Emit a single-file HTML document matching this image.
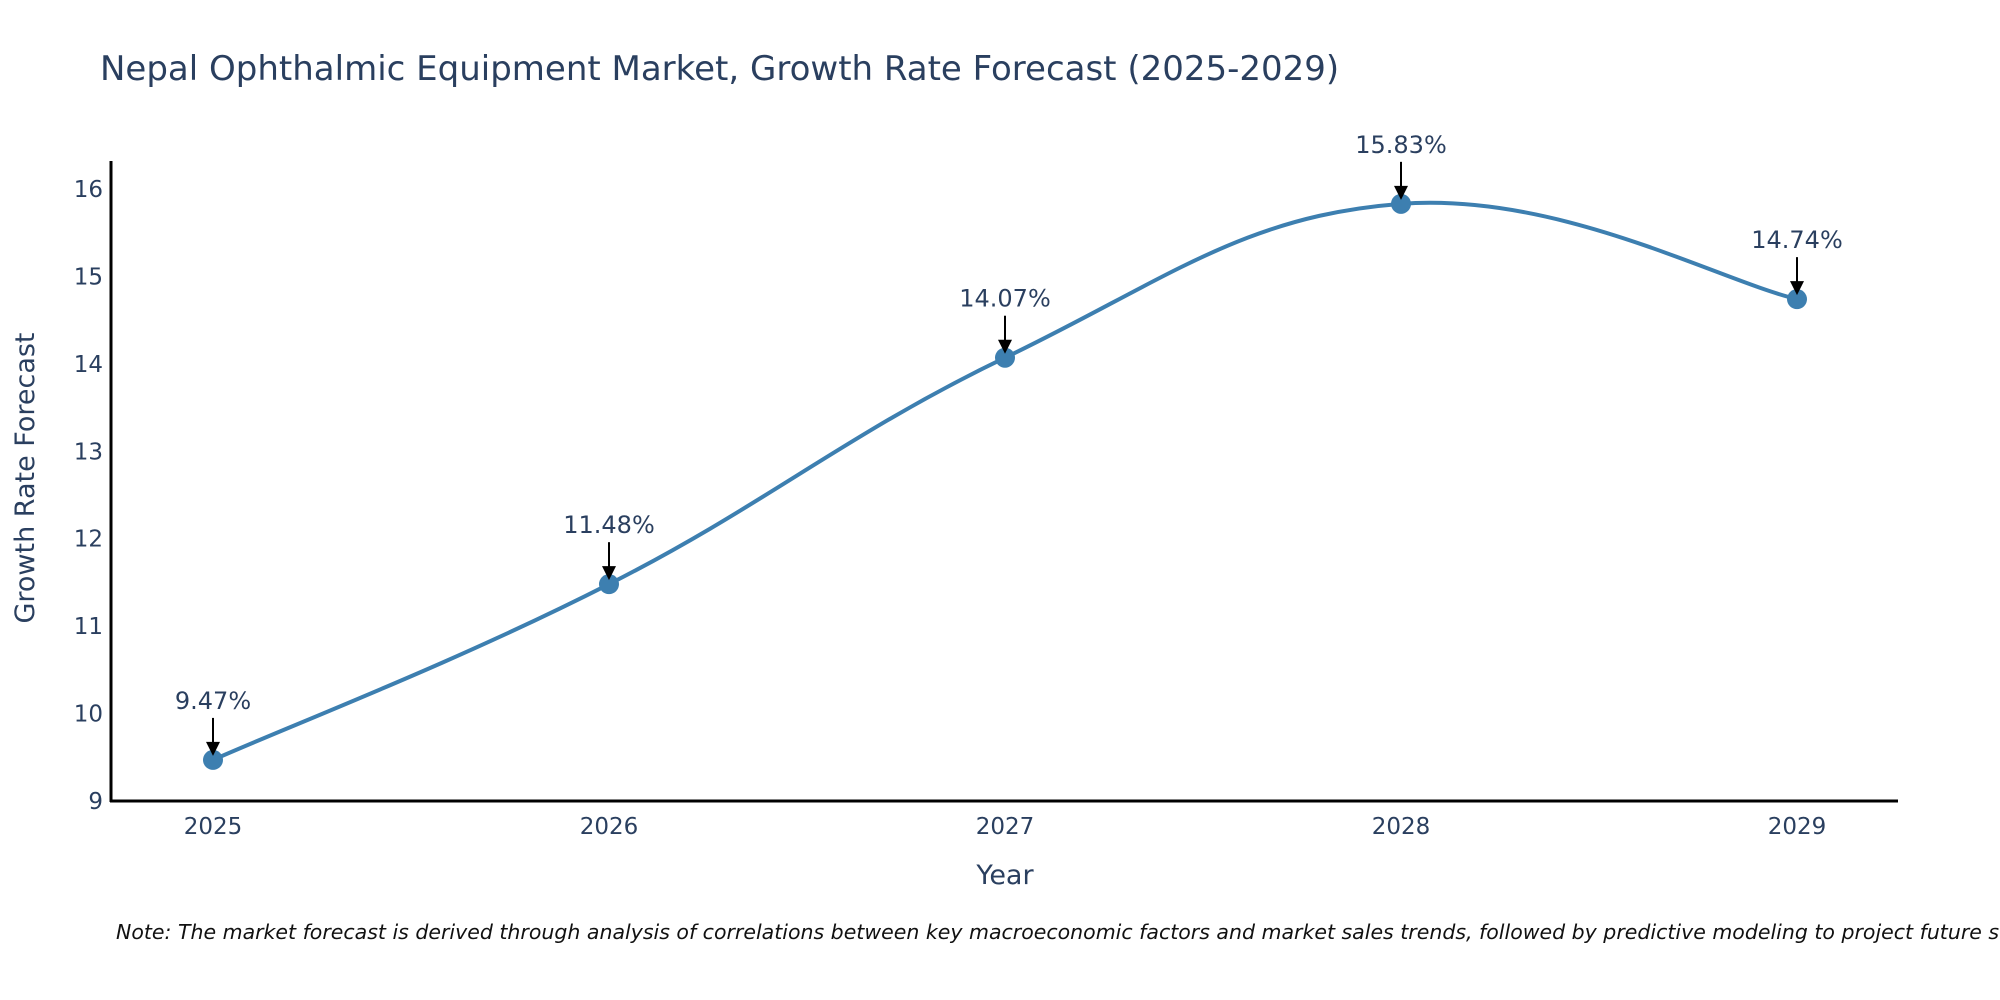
<!DOCTYPE html>
<html><head><meta charset="utf-8"><style>
body{margin:0;background:#fff;}
svg{display:block;font-family:"DejaVu Sans","Liberation Sans",sans-serif;}
</style></head><body>
<svg id="chart" width="2000" height="1000" viewBox="0 0 2000 1000">
<text x="100" y="80" font-size="34" fill="#2a3f5f">Nepal Ophthalmic Equipment Market, Growth Rate Forecast (2025-2029)</text>
<g id="axes"></g>
<g id="series"></g>
<text transform="translate(34,478) rotate(-90)" text-anchor="middle" font-size="27" fill="#2a3f5f">Growth Rate Forecast</text>
<text x="1005" y="884" text-anchor="middle" font-size="27" fill="#2a3f5f">Year</text>
<text x="116" y="939" font-size="20.5" font-style="italic" fill="#111">Note: The market forecast is derived through analysis of correlations between key macroeconomic factors and market sales trends, followed by predictive modeling to project future sales</text>
</svg>
<script>
const categories = ["2025","2026","2027","2028","2029"];
const values = [9.47, 11.48, 14.07, 15.83, 14.74];
const yTicks = [9,10,11,12,13,14,15,16];
const NS="http://www.w3.org/2000/svg";
const x0=111,x1=1898,yTop=161,yBot=801,yMin=9,yMax=16.32;
const xs=i=>213+i*(1797-213)/(categories.length-1);
const ys=v=>yBot-(v-yMin)/(yMax-yMin)*(yBot-yTop);
function mk(tag,attrs,parent){const e=document.createElementNS(NS,tag);for(const k in attrs)e.setAttribute(k,attrs[k]);parent.appendChild(e);return e;}
const axes=document.getElementById('axes'),ser=document.getElementById('series');
let l=mk('line',{x1:x0,y1:yTop,x2:x0,y2:yBot+1,stroke:'#000','stroke-width':3},axes);


l=mk('line',{x1:x0-1,y1:yBot,x2:x1,y2:yBot,stroke:'#000','stroke-width':3},axes);


yTicks.forEach(t=>{const e=mk('text',{x:x0-8,y:ys(t)+8,'text-anchor':'end','font-size':23,fill:'#2a3f5f'},axes);e.textContent=t;

});
categories.forEach((c,i)=>{const e=mk('text',{x:xs(i),y:yBot+33,'text-anchor':'middle','font-size':23,fill:'#2a3f5f'},axes);e.textContent=c;

});
const pts=values.map((v,i)=>[xs(i),ys(v)]);
let d=`M${pts[0][0]},${pts[0][1]}`;const s=0.2;
for(let i=0;i<pts.length-1;i++){const p0=pts[i-1]||pts[i],p1=pts[i],p2=pts[i+1],p3=pts[i+2]||p2;
d+=` C${p1[0]+(p2[0]-p0[0])*s},${p1[1]+(p2[1]-p0[1])*s} ${p2[0]-(p3[0]-p1[0])*s},${p2[1]-(p3[1]-p1[1])*s} ${p2[0]},${p2[1]}`;}
const path=mk('path',{d:d,fill:'none',stroke:'#3d7fb0','stroke-width':4},ser);


pts.forEach((p,i)=>{const c=mk('circle',{cx:p[0],cy:p[1],r:10,fill:'#3d7fb0'},ser);


const a=mk('line',{x1:p[0],y1:p[1]-42,x2:p[0],y2:p[1]-14,stroke:'#000','stroke-width':2},ser);


const h=mk('polygon',{points:`${p[0]-7},${p[1]-18} ${p[0]+7},${p[1]-18} ${p[0]},${p[1]-4}`,fill:'#000'},ser);


const t=mk('text',{x:p[0],y:p[1]-51,'text-anchor':'middle','font-size':24,fill:'#2a3f5f'},ser);t.textContent=values[i].toFixed(2)+'%';

});
</script>
</body></html>
